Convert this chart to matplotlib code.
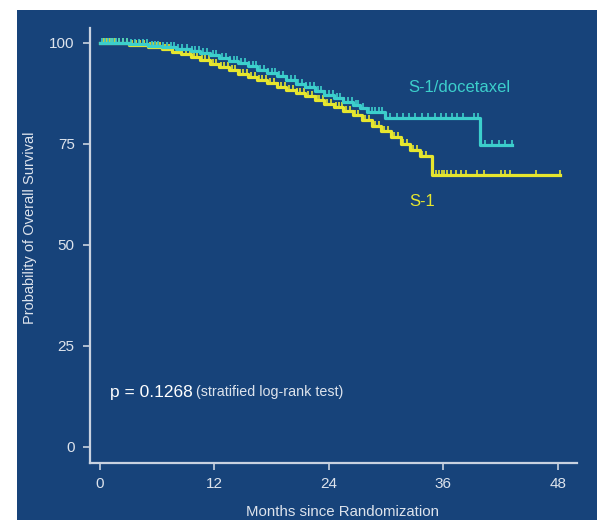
import matplotlib.pyplot as plt
import numpy as np
from matplotlib.patches import Rectangle
from matplotlib.path import Path

plt.rcParams['font.family'] = ['Liberation Sans', 'DejaVu Sans']

# S-1/docetaxel: event times (months) and survival (%) after each step
doc_t = [0, 3, 5, 6.5, 8, 9.5, 10.5, 11.5, 12.5, 13.5, 14.5, 15.5, 16.5, 17.5,
         18.5, 19.5, 20.5, 21.5, 22.5, 23.5, 24.5, 25.5, 26.5, 27.3, 28, 29.9, 39.8]
doc_s = [100, 99.7, 99.3, 99, 98.5, 98, 97.5, 97, 96.3, 95.6, 95, 94.2, 93.4, 92.6,
         91.7, 90.8, 89.9, 89, 88.1, 87.2, 86.3, 85.5, 84.6, 83.8, 83, 81.3, 74.8]
doc_end = 43.2
doc_cens = [0.2, 0.5, 0.8, 1.1, 1.4, 1.7, 2.0, 2.4, 2.8, 3.3, 3.7, 4.1, 4.5, 4.9,
            5.4, 5.8, 6.1, 6.6, 7.0, 7.4, 7.8, 8.2, 8.6, 9.1, 9.6, 10.0, 10.4,
            10.8, 11.2, 11.8, 12.2, 12.8, 13.2, 13.6, 14.0, 14.4, 14.8, 15.2,
            15.6, 16.0, 16.4, 16.8, 17.2, 17.6, 18.0, 18.3, 18.8, 19.2, 19.6,
            20.0, 20.4, 20.8, 21.2, 21.6, 22.0, 22.4, 22.8, 23.2, 23.6, 24.0,
            24.4, 24.8, 25.2, 25.6, 26.0, 26.4, 26.8, 27.0, 27.6, 28.2, 28.5,
            28.8, 29.2, 29.6, 30.4, 31.1, 31.8, 32.4, 33, 33.7, 34.4, 35.1, 35.7,
            36.3, 36.9, 37.4, 38.1, 39.2, 39.6, 40.4, 41.1, 41.8, 42.5, 43.2]

# S-1
s1_t = [0, 3, 5, 6.5, 7.5, 8.5, 9.5, 10.5, 11.5, 12.5, 13.5, 14.5, 15.5, 16.5,
        17.5, 18.5, 19.5, 20.5, 21.5, 22.5, 23.5, 24.5, 25.5, 26.5, 27.5, 28.5,
        29.5, 30.5, 31.5, 32.5, 33.5, 34.8]
s1_s = [100, 99.6, 99, 98.4, 97.8, 97.2, 96.5, 95.7, 94.8, 94, 93.2, 92.4, 91.6,
        90.8, 90, 89.2, 88.4, 87.6, 86.8, 85.9, 85, 84.1, 83.1, 82.1, 80.9, 79.5,
        78.1, 76.6, 75, 73.5, 72, 67.4]
s1_end = 48.2
s1_cens = [0.4, 0.7, 1.0, 1.3, 1.6, 2.0, 2.4, 2.8, 3.4, 3.8, 4.2, 4.6, 5.2, 5.6,
           6.0, 6.3, 6.8, 7.2, 7.7, 8.1, 8.6, 9.0, 9.4, 9.8, 10.2, 10.7, 11.0,
           11.4, 11.8, 12.2, 12.7, 13.0, 13.4, 13.8, 14.2, 14.7, 15.0, 15.4,
           15.8, 16.2, 16.7, 17.0, 17.4, 17.8, 18.2, 18.7, 19.0, 19.4, 19.8,
           20.2, 20.7, 21.0, 21.4, 21.8, 22.2, 22.7, 23.0, 23.4, 23.8, 24.2,
           24.7, 25.0, 25.4, 25.8, 26.2, 26.7, 27.0, 27.8, 28.2, 28.8, 29.2,
           29.8, 30.2, 30.8, 31.2, 31.8, 32.2, 32.8, 33.2, 33.8, 34.2, 35.2,
           35.5, 35.8, 36.1, 36.4, 36.8, 37.3, 37.8, 38.4, 39.5, 40.3, 42, 42.5,
           43, 45.7, 48.2]

x_ticks = [0, 12, 24, 36, 48]
y_ticks = [0, 25, 50, 75, 100]

bg = '#17437a'
fg = '#dde3ec'
cyan = '#3ccfcc'
yellow = '#e6e62e'

fig = plt.figure(figsize=(5.97, 5.2), dpi=100, facecolor='white')
fig.patches.append(Rectangle((17 / 597, 0), 580 / 597, 510 / 520,
                             transform=fig.transFigure, facecolor=bg,
                             edgecolor='none', zorder=-1))

ax = fig.add_axes([90 / 597, 1 - 463 / 520, 487 / 597, 435 / 520])
ax.set_facecolor(bg)

tick_mark = Path([(0, 0), (0, 1)], [Path.MOVETO, Path.LINETO])


def draw_curve(t, s, end, cens, color):
    tt = list(t) + [end]
    ss = list(s) + [s[-1]]
    ax.step(tt, ss, where='post', color=color, lw=2.3, zorder=3)
    idx = np.searchsorted(t, cens, side='right') - 1
    cy = np.array(s)[idx]
    ax.plot(cens, cy, linestyle='none', marker=tick_mark, markersize=7,
            markeredgecolor=color, markeredgewidth=1.2, zorder=3)


draw_curve(s1_t, s1_s, s1_end, s1_cens, yellow)
draw_curve(doc_t, doc_s, doc_end, doc_cens, cyan)

ax.set_xlim(-1.05, 50)
ax.set_ylim(-4, 103.7)
ax.set_xticks(x_ticks)
ax.set_yticks(y_ticks)
for side in ['top', 'right']:
    ax.spines[side].set_visible(False)
for side in ['left', 'bottom']:
    ax.spines[side].set_color('#c9d2e0')
    ax.spines[side].set_linewidth(1.6)
ax.tick_params(colors='#c9d2e0', labelcolor=fg, labelsize=11, length=5,
               width=1.2, direction='out')
ax.tick_params(axis='y', pad=6)
ax.tick_params(axis='x', pad=5)

fig.text(30 / 597, 1 - 228 / 520, 'Probability of Overall Survival', rotation=90,
         color=fg, fontsize=10.5, ha='center', va='center')
fig.text(343 / 597, 1 - 512 / 520, 'Months since Randomization', color=fg,
         fontsize=10.8, ha='center', va='center')

fig.text(110 / 597, 1 - 392 / 520, 'p = 0.1268', color='white', fontsize=12.5,
         ha='left', va='center')
fig.text(196 / 597, 1 - 392 / 520, '(stratified log-rank test)', color=fg,
         fontsize=10.3, ha='left', va='center')

fig.text(408 / 597, 1 - 87 / 520, 'S-1/docetaxel', color=cyan, fontsize=12,
         ha='left', va='center')
fig.text(409 / 597, 1 - 201 / 520, 'S-1', color=yellow, fontsize=12,
         ha='left', va='center')

fig.savefig('out.png', dpi=100, facecolor='white')
